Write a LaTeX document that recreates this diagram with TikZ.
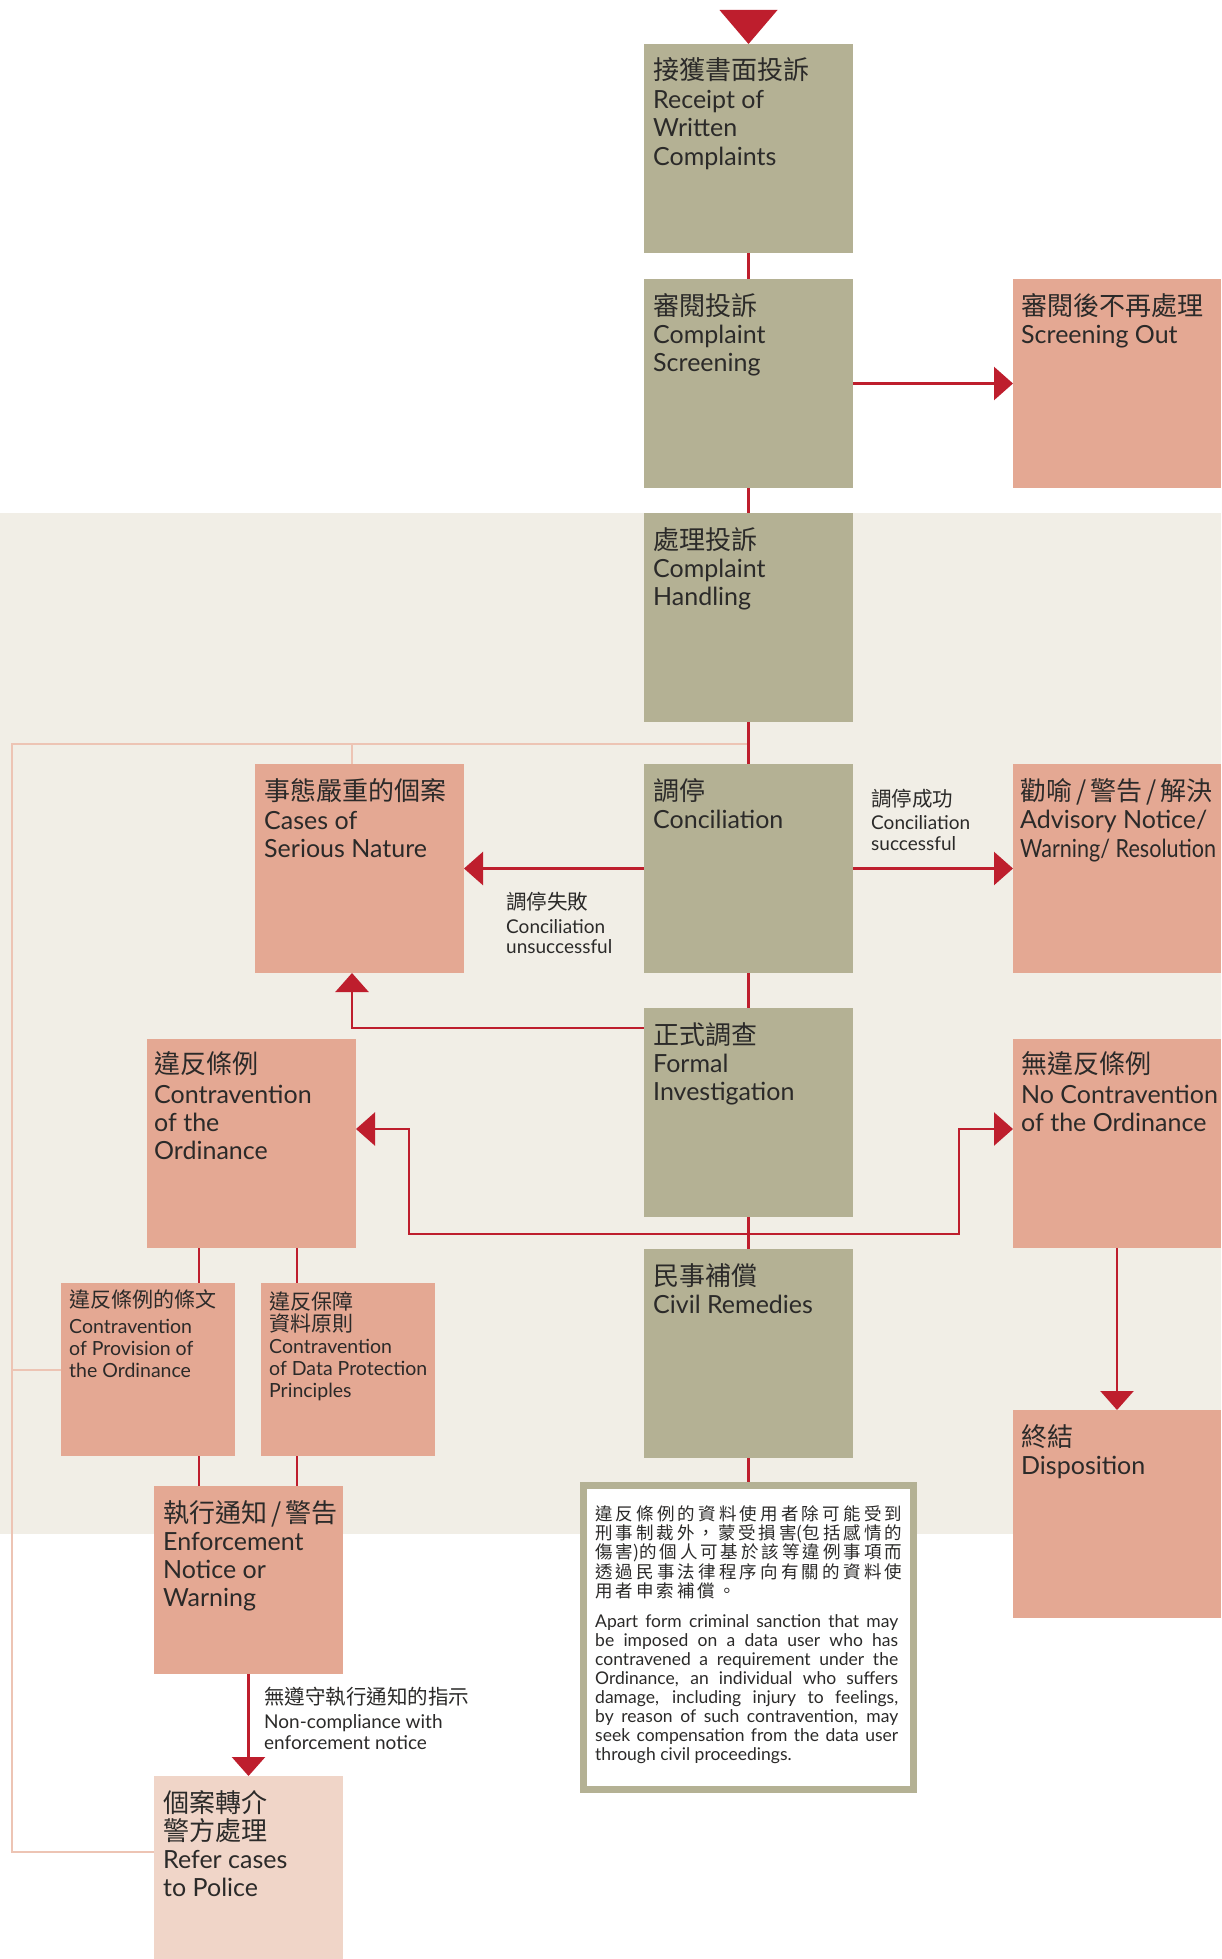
\documentclass[tikz,border=0pt]{standalone}
\usepackage{fontspec}
\usepackage{graphicx}
\setmainfont{Lato}
\newfontfamily\cjk{Noto Sans CJK TC}
\usetikzlibrary{arrows.meta}
\definecolor{olivefill}{HTML}{B4B194}
\definecolor{salmonfill}{HTML}{E4A893}
\definecolor{paleroseFill}{HTML}{F0D5C8}
\definecolor{beigeband}{HTML}{F1EEE6}
\definecolor{linered}{HTML}{BE1E2D}
\definecolor{linepink}{HTML}{EDC4B4}
\definecolor{inkcol}{HTML}{2B2A29}
\pgfdeclarelayer{back}
\pgfdeclarelayer{lines}
\pgfsetlayers{back,lines,main}
\newcommand\mkbox[6]{\node[#6, minimum width=#4pt, minimum height=#5pt] (#1) at (#2,#3) {};}
\newcommand\txtlines[6]{\foreach \txtitem [count=\k from 0] in {#6} {\node[#5, anchor=base west] at ([shift={(#2,{#3+#4*\k})}]#1.north west) {\txtitem};}}
\newcommand\cslash{\kern4pt/\kern4pt}
\begin{document}
\begin{tikzpicture}[x=1pt,y=-1pt,
  basebox/.style={rectangle, anchor=north west, inner sep=0pt, outer sep=0pt},
  olivebox/.style={basebox, fill=olivefill},
  salmonbox/.style={basebox, fill=salmonfill},
  lightbox/.style={basebox, fill=paleroseFill},
  cnbig/.style={font=\cjk\fontsize{26}{26}\selectfont, text=inkcol, inner sep=0pt},
  enbig/.style={font=\fontsize{25}{28}\selectfont, text=inkcol, inner sep=0pt},
  cnsmall/.style={font=\cjk\fontsize{21}{21}\selectfont, text=inkcol, inner sep=0pt},
  ensmall/.style={font=\fontsize{19.5}{22}\selectfont, text=inkcol, inner sep=0pt},
  cnlab/.style={font=\cjk\fontsize{20.5}{20.5}\selectfont, text=inkcol, inner sep=0pt},
  enlab/.style={font=\fontsize{19}{20}\selectfont, text=inkcol, inner sep=0pt},
  cnpara/.style={font=\cjk\fontsize{17.5}{19}\selectfont, text=inkcol, inner sep=0pt, anchor=base west},
  enpara/.style={font=\fontsize{17.5}{19}\selectfont, text=inkcol, inner sep=0pt, anchor=base west},
  redline/.style={draw=linered, line width=2.5pt},
  redarrow/.style={redline, -{Triangle[length=19pt,width=33pt]}},
  pinkline/.style={draw=linepink, line width=2.5pt}
]
\useasboundingbox (0,0) rectangle (1221,1959);
\begin{pgfonlayer}{back}
\fill[white] (0,0) rectangle (1221,1959);
\fill[beigeband] (0,513) rectangle (1221,1534);
\end{pgfonlayer}

% boxes
\mkbox{b1}{644}{44}{209}{209}{olivebox}
\mkbox{b2}{644}{279}{209}{209}{olivebox}
\mkbox{so}{1013}{279}{208}{209}{salmonbox}
\mkbox{b3}{644}{513}{209}{209}{olivebox}
\mkbox{con}{644}{764}{209}{209}{olivebox}
\mkbox{ser}{255}{764}{209}{209}{salmonbox}
\mkbox{adv}{1013}{764}{208}{209}{salmonbox}
\mkbox{inv}{644}{1008}{209}{209}{olivebox}
\mkbox{ctr}{147}{1039}{209}{209}{salmonbox}
\mkbox{noc}{1013}{1039}{208}{209}{salmonbox}
\mkbox{prov}{61}{1283}{174}{173}{salmonbox}
\mkbox{dpp}{261}{1283}{174}{173}{salmonbox}
\mkbox{civ}{644}{1249}{209}{209}{olivebox}
\mkbox{enf}{154}{1486}{189}{188}{salmonbox}
\mkbox{ref}{154}{1776}{189}{183}{lightbox}
\mkbox{dis}{1013}{1410}{208}{208}{salmonbox}
\node[basebox, draw=olivefill, fill=white, line width=7pt, outer sep=3.5pt, minimum width=330pt, minimum height=304pt] (tb) at (580,1482) {};

% top incoming triangle
\fill[linered] (b1.north) -- ++(-29,-34) -- ++(58,0) -- cycle;

% connectors
\coordinate (pk) at (748.5,744);
\coordinate (pkl) at (12,744);
\coordinate (pkb) at (12,1852);
\coordinate (pkm) at (12,1370);
\coordinate (jn) at (748.5,1234);
\begin{pgfonlayer}{lines}
\draw[pinkline] (pk) -- (pkl) -- (pkb) -- (ref.west |- pkb);
\draw[pinkline] (pkm) -- (prov.west |- pkm);
\draw[pinkline] ([xshift=-7.5pt]ser.north |- pk) -- ([xshift=-7.5pt]ser.north);
\draw[redline] (b1.south) -- (b2.north);
\draw[redline] (b2.south) -- (b3.north);
\draw[redline] (b3.south) -- (con.north);
\draw[redline] (con.south) -- (inv.north);
\draw[redline] (inv.south) -- (civ.north);
\draw[redline] (civ.south) -- (tb.north);
\draw[redarrow] (b2.east) -- (so.west);
\draw[redarrow] (con.west) -- (ser.east);
\draw[redarrow] (con.east) -- (adv.west);
\draw[redarrow] ([yshift=-20pt]inv.north west) -| ([xshift=-7.5pt]ser.south);
\draw[redarrow] (jn) -- (409,1234) |- ([yshift=14.5pt]ctr.east);
\draw[redarrow] (jn) -- (959,1234) |- ([yshift=14.5pt]noc.west);
\draw[redline] ([xshift=52pt]ctr.south west) -- ([xshift=52pt]ctr.south west |- prov.north);
\draw[redline] ([xshift=150pt]ctr.south west) -- ([xshift=150pt]ctr.south west |- dpp.north);
\draw[redline] ([xshift=138pt]prov.south west) -- ([xshift=138pt]prov.south west |- enf.north);
\draw[redline] ([xshift=36pt]dpp.south west) -- ([xshift=36pt]dpp.south west |- enf.north);
\draw[redarrow] (enf.south) -- (ref.north);
\draw[redarrow] (noc.south) -- (dis.north);
\end{pgfonlayer}

% box texts
\txtlines{b1}{9}{36}{0}{cnbig}{接獲書面投訴}
\txtlines{b1}{9}{64}{28.5}{enbig}{Receipt of,Written,Complaints}
\txtlines{b2}{9}{36}{0}{cnbig}{審閱投訴}
\txtlines{b2}{9}{64}{28.5}{enbig}{Complaint,Screening}
\txtlines{so}{8}{36}{0}{cnbig}{審閱後不再處理}
\txtlines{so}{8}{64}{28.5}{enbig}{Screening Out}
\txtlines{b3}{9}{36}{0}{cnbig}{處理投訴}
\txtlines{b3}{9}{64}{28.5}{enbig}{Complaint,Handling}
\txtlines{con}{9}{36}{0}{cnbig}{調停}
\txtlines{con}{9}{64}{28.5}{enbig}{Conciliation}
\txtlines{ser}{9}{36}{0}{cnbig}{事態嚴重的個案}
\txtlines{ser}{9}{65}{28}{enbig}{Cases of,Serious Nature}
\txtlines{adv}{7}{36}{0}{cnbig}{勸喻\cslash 警告\cslash 解決}
\txtlines{adv}{7}{64}{29}{enbig}{Advisory Notice/,{\resizebox{196pt}{\height}{Warning/ Resolution}}}
\txtlines{inv}{9}{36}{0}{cnbig}{正式調查}
\txtlines{inv}{9}{64}{28.5}{enbig}{Formal,Investigation}
\txtlines{ctr}{7}{34}{0}{cnbig}{違反條例}
\txtlines{ctr}{7}{64}{28}{enbig}{Contravention,of the,Ordinance}
\txtlines{noc}{8}{34}{0}{cnbig}{無違反條例}
\txtlines{noc}{8}{64}{28}{enbig}{No Contravention,of the Ordinance}
\txtlines{prov}{8}{24}{0}{cnsmall}{違反條例的條文}
\txtlines{prov}{8}{50}{22}{ensmall}{Contravention,of Provision of,the Ordinance}
\txtlines{dpp}{8}{26}{22}{cnsmall}{違反保障,資料原則}
\txtlines{dpp}{8}{70}{22}{ensmall}{Contravention,of Data Protection,Principles}
\txtlines{civ}{9}{36}{0}{cnbig}{民事補償}
\txtlines{civ}{9}{64}{28.5}{enbig}{Civil Remedies}
\txtlines{enf}{9}{36}{0}{cnbig}{執行通知\cslash 警告}
\txtlines{enf}{9}{64}{28}{enbig}{Enforcement,Notice or,Warning}
\txtlines{ref}{9}{36}{28}{cnbig}{個案轉介,警方處理}
\txtlines{ref}{9}{92}{28}{enbig}{Refer cases,to Police}
\txtlines{dis}{8}{36}{0}{cnbig}{終結}
\txtlines{dis}{8}{64}{28.5}{enbig}{Disposition}

% connector labels
\node[cnlab, anchor=base west] (lfail) at (506,909) {調停失敗};
\node[enlab, anchor=base west] (lfail2) at (506,933) {Conciliation};
\node[enlab, anchor=base west] (lfail3) at (506,953) {unsuccessful};
\node[cnlab, anchor=base west] (lok) at (871,806) {調停成功};
\node[enlab, anchor=base west] (lok2) at (871,829) {Conciliation};
\node[enlab, anchor=base west] (lok3) at (871,850) {successful};
\node[cnlab, anchor=base west] (lnc) at (264,1704) {無遵守執行通知的指示};
\node[enlab, anchor=base west] (lnc2) at (264,1728) {Non-compliance with};
\node[enlab, anchor=base west] (lnc3) at (264,1749) {enforcement notice};

% paragraph in the text box
\node[cnpara] (c1) at (595,1520) {\makebox[307pt][s]{違 反 條 例 的 資 料 使 用 者 除 可 能 受 到}};
\node[cnpara] (c2) at (595,1539) {\makebox[307pt][s]{刑 事 制 裁 外 ， 蒙 受 損 害(包 括 感 情 的}};
\node[cnpara] (c3) at (595,1558) {\makebox[307pt][s]{傷 害)的 個 人 可 基 於 該 等 違 例 事 項 而}};
\node[cnpara] (c4) at (595,1578) {\makebox[307pt][s]{透 過 民 事 法 律 程 序 向 有 關 的 資 料 使}};
\node[cnpara] (c5) at (595,1597) {用\hspace{3pt}者\hspace{3pt}申\hspace{3pt}索\hspace{3pt}補\hspace{3pt}償\hspace{3pt}。};
\node[enpara] (e1) at (595,1627) {\makebox[303pt][s]{Apart form criminal sanction that may}};
\node[enpara] (e2) at (595,1646) {\makebox[303pt][s]{be imposed on a data user who has}};
\node[enpara] (e3) at (595,1665) {\makebox[303pt][s]{contravened a requirement under the}};
\node[enpara] (e4) at (595,1684) {\makebox[303pt][s]{Ordinance, an individual who suffers}};
\node[enpara] (e5) at (595,1703) {\makebox[303pt][s]{damage, including injury to feelings,}};
\node[enpara] (e6) at (595,1722) {\makebox[303pt][s]{by reason of such contravention, may}};
\node[enpara] (e7) at (595,1741) {\makebox[303pt][s]{seek compensation from the data user}};
\node[enpara] (e8) at (595,1760) {through civil proceedings.};
\end{tikzpicture}
\end{document}
